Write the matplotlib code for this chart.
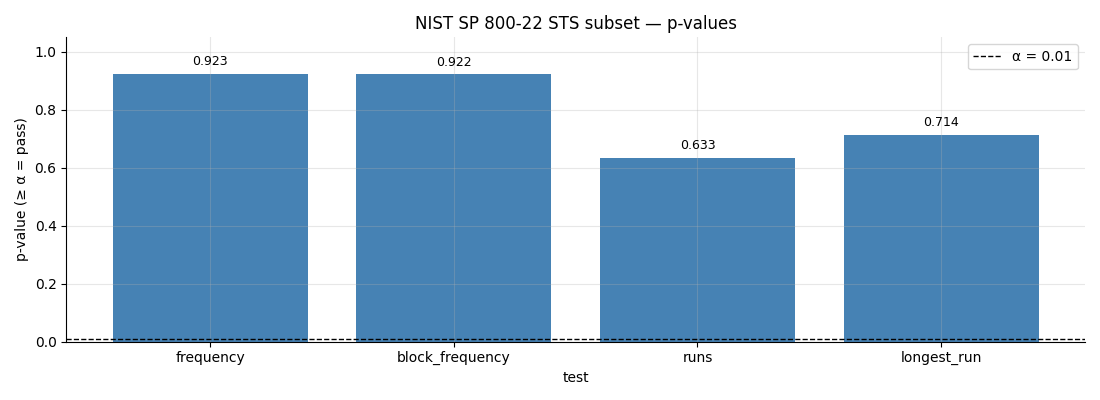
import matplotlib
matplotlib.use("Agg")
from matplotlib import pyplot as plt

# p-values des tests NIST retenus
tests = ['frequency', 'block_frequency', 'runs', 'longest_run']
pvalues = [0.923, 0.922, 0.633, 0.714]
alpha = 0.01

fig, ax = plt.subplots(figsize=(11, 4), dpi=100)
bars = ax.bar(tests, pvalues, color='steelblue')
for b, p in zip(bars, pvalues):
    ax.text(b.get_x() + b.get_width() / 2, p + 0.02, f'{p:.3f}',
            ha='center', va='bottom', fontsize=9)
ax.axhline(alpha, color='black', linestyle='--', linewidth=1,
           label=f'α = {alpha}')
ax.set_ylim(0, 1.05)
ax.set_title('NIST SP 800-22 STS subset — p-values')
ax.set_xlabel('test')
ax.set_ylabel('p-value (≥ α = pass)')
ax.grid(True, alpha=0.3)
ax.spines['top'].set_visible(False)
ax.spines['right'].set_visible(False)
ax.legend(loc='upper right')
plt.tight_layout()
fig.savefig('out.png')
